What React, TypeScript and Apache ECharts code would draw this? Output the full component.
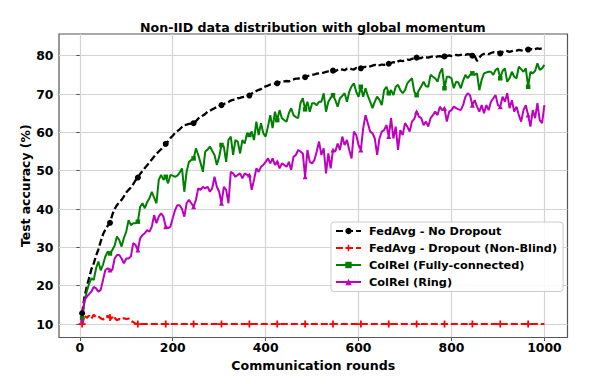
import React, { useEffect, useRef } from 'react';
import * as echarts from 'echarts';

const rounds = Array.from({ length: 200 }, (_, i) => 5 * (i + 1));

const seriesNames = [
  'FedAvg - No Dropout',
  'FedAvg - Dropout (Non-Blind)',
  'ColRel (Fully-connected)',
  'ColRel (Ring)',
];

const xTicks = [0, 200, 400, 600, 800, 1000];
const yTicks = [10, 20, 30, 40, 50, 60, 70, 80];

const fedAvgNoDropout = [
  12.8, 17.0, 19.7, 22.0, 24.3, 25.8, 27.8, 29.5, 31.5, 33.4,
  34.6, 35.6, 36.4, 38.5, 40.0, 41.0, 41.8, 42.4, 43.3, 44.3,
  45.0, 45.6, 46.5, 47.5, 48.2, 49.2, 49.9, 50.7, 51.4, 52.2,
  52.9, 53.7, 54.4, 55.0, 55.6, 56.4, 57.0, 57.7, 58.5, 59.1,
  59.8, 60.3, 60.8, 61.4, 61.9, 62.0, 62.2, 62.3, 62.4, 62.9,
  63.6, 64.0, 64.4, 64.8, 65.4, 65.6, 66.0, 66.3, 66.6, 66.9,
  67.1, 67.4, 67.6, 67.9, 68.3, 68.5, 68.6, 68.9, 69.0, 69.2,
  69.3, 69.5, 69.6, 70.1, 70.5, 70.8, 71.1, 71.3, 71.8, 72.0,
  72.2, 72.5, 72.6, 72.7, 72.8, 73.1, 73.2, 73.3, 73.4, 73.3,
  73.6, 73.8, 74.0, 74.0, 74.2, 74.3, 74.4, 74.7, 74.8, 75.0,
  75.1, 75.3, 75.4, 75.5, 75.6, 75.8, 75.9, 75.9, 76.1, 75.9,
  76.3, 76.5, 76.4, 76.2, 76.6, 76.7, 76.5, 76.4, 76.8, 76.6,
  76.7, 77.0, 77.1, 77.0, 77.2, 77.4, 77.6, 77.3, 77.5, 77.7,
  77.6, 77.8, 77.9, 78.1, 78.3, 78.1, 78.5, 78.7, 78.6, 78.8,
  79.0, 78.9, 79.2, 79.3, 79.5, 79.3, 79.4, 79.7, 79.6, 79.5,
  79.7, 79.8, 79.6, 79.8, 79.9, 79.7, 79.8, 79.9, 80.1, 79.9,
  80.0, 80.2, 80.1, 80.2, 80.3, 80.2, 80.4, 80.3, 80.0, 79.9,
  78.6, 79.5, 80.2, 80.5, 80.6, 80.4, 80.7, 80.9, 80.8, 80.9,
  80.6, 81.0, 81.3, 81.2, 81.0, 81.2, 81.4, 81.3, 81.5, 81.4,
  81.3, 81.6, 81.6, 81.8, 81.5, 81.7, 81.9, 81.8, 81.9, 81.9,
];

const fedAvgDropout = [
  10.0, 12.3, 11.6, 12.2, 11.4, 12.4, 11.8, 12.0, 11.5, 11.2,
  11.9, 12.1, 11.7, 11.2, 11.6, 11.0, 11.3, 11.1, 11.5, 11.3,
  11.4, 10.8, 10.5, 10.1, 10.0, 10.0, 10.0, 10.0, 10.0, 10.0,
  10.0, 10.0, 10.0, 10.0, 10.0, 10.0, 10.0, 10.0, 10.0, 10.0,
  10.0, 10.0, 10.0, 10.0, 10.0, 10.0, 10.0, 10.0, 10.0, 10.0,
  10.0, 10.0, 10.0, 10.0, 10.0, 10.0, 10.0, 10.0, 10.0, 10.0,
  10.0, 10.0, 10.0, 10.0, 10.0, 10.0, 10.0, 10.0, 10.0, 10.0,
  10.0, 10.0, 10.0, 10.0, 10.0, 10.0, 10.0, 10.0, 10.0, 10.0,
  10.0, 10.0, 10.0, 10.0, 10.0, 10.0, 10.0, 10.0, 10.0, 10.0,
  10.0, 10.0, 10.0, 10.0, 10.0, 10.0, 10.0, 10.0, 10.0, 10.0,
  10.0, 10.0, 10.0, 10.0, 10.0, 10.0, 10.0, 10.0, 10.0, 10.0,
  10.0, 10.0, 10.0, 10.0, 10.0, 10.0, 10.0, 10.0, 10.0, 10.0,
  10.0, 10.0, 10.0, 10.0, 10.0, 10.0, 10.0, 10.0, 10.0, 10.0,
  10.0, 10.0, 10.0, 10.0, 10.0, 10.0, 10.0, 10.0, 10.0, 10.0,
  10.0, 10.0, 10.0, 10.0, 10.0, 10.0, 10.0, 10.0, 10.0, 10.0,
  10.0, 10.0, 10.0, 10.0, 10.0, 10.0, 10.0, 10.0, 10.0, 10.0,
  10.0, 10.0, 10.0, 10.0, 10.0, 10.0, 10.0, 10.0, 10.0, 10.0,
  10.0, 10.0, 10.0, 10.0, 10.0, 10.0, 10.0, 10.0, 10.0, 10.0,
  10.0, 10.0, 10.0, 10.0, 10.0, 10.0, 10.0, 10.0, 10.0, 10.0,
  10.0, 10.0, 10.0, 10.0, 10.0, 10.0, 10.0, 10.0, 10.0, 10.0,
];

const colRelFull = [
  11.5, 15.5, 18.5, 20.5, 21.9, 21.5, 24.5, 26.3, 24.0, 25.5,
  27.6, 28.9, 28.4, 29.3, 30.5, 32.8, 31.9, 30.2, 32.5, 34.1,
  37.1, 35.8, 36.3, 36.3, 36.7, 40.6, 41.5, 40.2, 41.8, 42.8,
  44.5, 43.0, 41.5, 47.6, 48.9, 47.6, 48.4, 46.7, 48.9, 48.7,
  48.4, 48.7, 49.5, 50.6, 44.5, 49.8, 52.3, 52.8, 53.2, 55.8,
  54.1, 52.0, 49.7, 55.0, 55.5, 56.3, 55.2, 54.1, 51.5, 53.6,
  56.7, 56.3, 52.3, 58.0, 58.9, 54.1, 58.0, 57.6, 54.5, 58.0,
  57.1, 59.8, 59.3, 60.2, 58.0, 62.8, 59.3, 62.4, 59.8, 58.9,
  61.5, 64.5, 61.1, 65.4, 63.2, 65.8, 63.7, 63.2, 62.8, 65.0,
  66.3, 64.5, 64.0, 63.7, 67.6, 68.9, 66.0, 68.0, 65.4, 67.6,
  67.6, 67.1, 68.0, 68.0, 70.2, 65.4, 68.0, 69.0, 69.7, 68.4,
  66.7, 68.9, 69.5, 70.2, 68.0, 70.6, 72.0, 72.8, 70.6, 69.3,
  71.9, 69.3, 71.5, 69.5, 68.0, 66.3, 68.0, 69.3, 68.5, 67.1,
  71.0, 71.9, 70.2, 71.0, 69.7, 71.9, 72.4, 71.0, 70.2, 71.0,
  72.8, 73.5, 74.1, 70.6, 69.7, 71.0, 72.0, 73.2, 72.0, 71.9,
  75.0, 74.5, 74.1, 73.2, 75.5, 76.7, 71.5, 74.5, 74.5, 74.1,
  71.5, 73.2, 73.0, 71.5, 73.5, 75.0, 74.1, 75.0, 75.4, 75.0,
  75.4, 71.0, 73.7, 75.4, 75.6, 75.8, 75.8, 75.0, 76.3, 76.7,
  74.1, 76.0, 76.7, 73.2, 74.1, 75.8, 74.5, 74.1, 77.1, 76.5,
  75.8, 76.7, 71.9, 75.8, 75.4, 76.0, 78.0, 76.3, 76.7, 77.6,
];

const colRelRing = [
  11.0, 16.3, 17.1, 17.8, 18.5, 19.7, 19.3, 18.4, 18.9, 21.5,
  24.1, 24.5, 24.1, 24.1, 27.1, 28.0, 28.0, 27.1, 25.8, 27.1,
  27.1, 27.6, 31.1, 30.6, 29.3, 32.4, 33.2, 33.7, 34.5, 34.1,
  35.4, 38.4, 36.3, 38.0, 38.9, 38.0, 35.4, 35.0, 35.4, 37.6,
  39.7, 41.0, 41.0, 40.0, 38.0, 41.5, 42.4, 41.5, 40.6, 42.4,
  45.4, 45.0, 45.8, 45.4, 45.8, 44.5, 45.4, 48.4, 45.8, 44.5,
  41.5, 45.8, 45.0, 41.5, 49.7, 49.3, 48.4, 48.9, 49.3, 48.0,
  49.3, 48.9, 48.9, 45.0, 47.6, 50.6, 49.7, 51.0, 51.5, 52.3,
  53.2, 51.9, 53.2, 51.5, 52.3, 50.6, 51.9, 51.5, 51.0, 52.3,
  50.2, 53.6, 54.1, 55.4, 55.0, 54.5, 48.4, 55.4, 52.3, 51.9,
  52.8, 55.0, 57.6, 54.1, 55.8, 49.3, 54.5, 50.6, 55.4, 55.0,
  57.1, 55.4, 58.9, 56.7, 58.0, 55.4, 53.2, 60.2, 59.3, 56.7,
  55.4, 61.1, 64.5, 62.4, 60.2, 59.8, 58.4, 54.1, 58.4, 60.2,
  60.6, 61.9, 58.9, 63.7, 58.4, 61.5, 55.4, 60.6, 59.3, 62.4,
  61.5, 60.2, 62.8, 63.5, 65.4, 64.1, 63.7, 61.9, 62.8, 61.5,
  63.7, 64.5, 65.4, 64.5, 66.7, 65.8, 66.3, 62.8, 65.4, 65.8,
  66.7, 66.3, 66.0, 65.8, 67.1, 69.3, 70.2, 69.7, 67.1, 68.4,
  66.7, 65.4, 67.1, 65.0, 67.1, 65.8, 68.0, 68.9, 69.7, 67.1,
  66.7, 69.3, 68.0, 70.2, 66.3, 68.4, 65.4, 66.7, 64.5, 62.8,
  65.8, 67.1, 64.5, 61.5, 65.8, 63.7, 67.6, 63.2, 62.4, 67.1,
];

const FONT = 'DejaVu Sans';
const PLUS = 'path://M3,0H5V3H8V5H5V8H3V5H0V3H3Z';
const MARK_EVERY = 12;

function buildData(values: number[]) {
  return values.map((v, i) => {
    const item: any = { value: [rounds[i], v] };
    if (i % MARK_EVERY !== 0) item.symbol = 'none';
    return item;
  });
}

export default function App() {
  const ref = useRef<HTMLDivElement>(null);

  useEffect(() => {
    if (!ref.current) return;
    const chart = echarts.init(ref.current, undefined, { renderer: 'svg' });

    const lineCommon = {
      type: 'line',
      showSymbol: true,
      smooth: false,
      clip: true,
      emphasis: { disabled: true },
    };

    chart.setOption({
      animation: false,
      backgroundColor: '#ffffff',
      textStyle: { fontFamily: FONT },
      title: {
        text: 'Non-IID data distribution with global momentum',
        left: 140,
        top: 20.5,
        padding: 0,
        textStyle: { fontFamily: FONT, fontWeight: 'bold', fontSize: 12.6, color: '#000' },
      },
      grid: {
        left: 59,
        top: 34,
        width: 508.5,
        height: 303.5,
        show: true,
        borderColor: '#555555',
        borderWidth: 1.2,
        backgroundColor: 'transparent',
        containLabel: false,
      },
      legend: {
        orient: 'vertical',
        left: 331,
        top: 222,
        width: 230,
        padding: [3.5, 6, 4, 4],
        itemWidth: 25,
        itemHeight: 8,
        itemGap: 6,
        selectedMode: false,
        backgroundColor: 'rgba(255,255,255,0.85)',
        borderColor: '#cccccc',
        borderWidth: 1,
        borderRadius: 3,
        textStyle: {
          fontFamily: FONT,
          fontWeight: 'bold',
          fontSize: 11.3,
          color: '#000',
          padding: [0, 0, 0, 3],
        },
        data: seriesNames,
      },
      xAxis: {
        type: 'value',
        min: -44.75,
        max: 1049.75,
        name: 'Communication rounds',
        nameLocation: 'middle',
        nameGap: 21,
        nameTextStyle: { fontFamily: FONT, fontWeight: 'bold', fontSize: 12.6, color: '#000' },
        axisLine: { show: false },
        axisTick: {
          show: true,
          inside: false,
          length: 3.5,
          lineStyle: { color: '#555555', width: 1 },
          customValues: xTicks,
        },
        axisLabel: {
          customValues: xTicks,
          margin: 4,
          fontFamily: FONT,
          fontWeight: 'bold',
          fontSize: 12.4,
          color: '#000',
          formatter: (v: number) => String(v),
        },
        splitLine: { show: true, lineStyle: { color: '#d4d4d4', width: 1.2 } },
      },
      yAxis: {
        type: 'value',
        min: 6.48,
        max: 85.66,
        name: 'Test accuracy (%)',
        nameLocation: 'middle',
        nameGap: 27.5,
        nameMoveOverlap: false,
        nameTextStyle: { fontFamily: FONT, fontWeight: 'bold', fontSize: 12.4, color: '#000' },
        axisLine: { show: false },
        axisTick: {
          show: true,
          inside: false,
          length: 3.5,
          lineStyle: { color: '#555555', width: 1 },
          customValues: yTicks,
        },
        axisLabel: {
          customValues: yTicks,
          margin: 5.5,
          fontFamily: FONT,
          fontWeight: 'bold',
          fontSize: 12.4,
          color: '#000',
          formatter: (v: number) => String(v),
        },
        splitLine: { show: true, lineStyle: { color: '#d4d4d4', width: 1.2 } },
      },
      series: [
        {
          ...lineCommon,
          name: seriesNames[0],
          data: buildData(fedAvgNoDropout),
          symbol: 'circle',
          symbolSize: 6,
          itemStyle: { color: '#000000' },
          lineStyle: { color: '#000000', width: 2.3, type: [7, 3] },
        },
        {
          ...lineCommon,
          name: seriesNames[1],
          data: buildData(fedAvgDropout),
          symbol: PLUS,
          symbolSize: 7,
          itemStyle: { color: '#ff0000' },
          lineStyle: { color: '#ff0000', width: 2.2, type: [7, 3] },
        },
        {
          ...lineCommon,
          name: seriesNames[2],
          data: buildData(colRelFull),
          symbol: 'rect',
          symbolSize: 4.5,
          itemStyle: { color: '#008000' },
          lineStyle: { color: '#008000', width: 2 },
        },
        {
          ...lineCommon,
          name: seriesNames[3],
          data: buildData(colRelRing),
          symbol: 'triangle',
          symbolSize: 5,
          itemStyle: { color: '#bf00bf' },
          lineStyle: { color: '#bf00bf', width: 2 },
        },
      ],
    });

    return () => {
      chart.dispose();
    };
  }, []);

  return (
    <div
      ref={ref}
      style={{ position: 'fixed', left: 0, top: 0, width: 598, height: 384 }}
    />
  );
}
